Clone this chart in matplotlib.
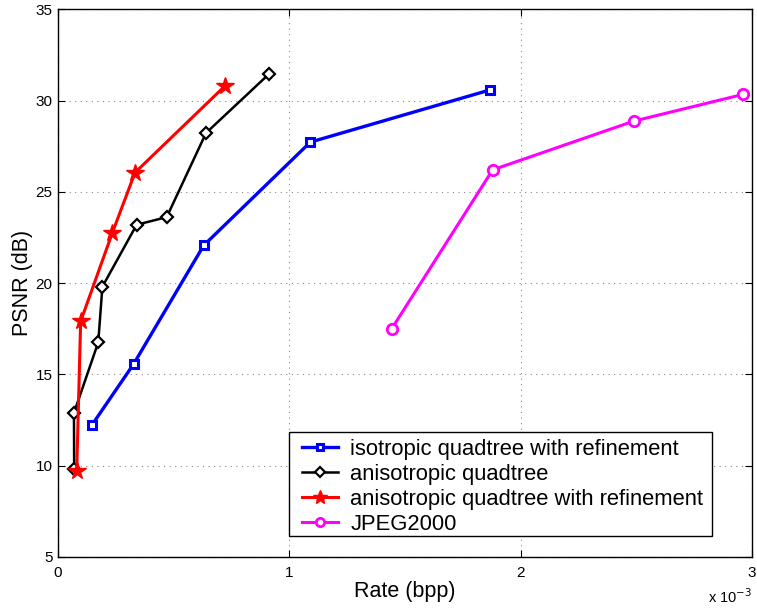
import matplotlib
matplotlib.use("Agg")
import matplotlib.pyplot as plt
from matplotlib.patches import Rectangle

plt.rcParams['font.family'] = ['Liberation Sans', 'DejaVu Sans']

# Rate in units of 1e-3 bpp, PSNR in dB
iso_ref_x = [0.148, 0.327, 0.630, 1.091, 1.868]
iso_ref_y = [12.25, 15.57, 22.07, 27.73, 30.59]

aniso_x = [0.070, 0.069, 0.174, 0.192, 0.340, 0.470, 0.640, 0.912]
aniso_y = [9.80, 12.89, 16.76, 19.81, 23.20, 23.62, 28.23, 31.46]

aniso_ref_x = [0.081, 0.098, 0.235, 0.333, 0.722]
aniso_ref_y = [9.73, 17.91, 22.76, 26.06, 30.81]

jpeg_x = [1.443, 1.879, 2.489, 2.963]
jpeg_y = [17.51, 26.21, 28.88, 30.35]

labels = ['isotropic quadtree with refinement', 'anisotropic quadtree',
          'anisotropic quadtree with refinement', 'JPEG2000']

xticks = [0, 1, 2, 3]
yticks = [5, 10, 15, 20, 25, 30, 35]

fig = plt.figure(figsize=(7.57, 6.12), dpi=100)
ax = fig.add_axes([0.0766, 0.090, 0.9168, 0.8946])

ax.plot(iso_ref_x, iso_ref_y, color='#0000ff', lw=2.4, marker='s', ms=6,
        mfc='white', mec='#0000ff', mew=2.2, label=labels[0])
ax.plot(aniso_x, aniso_y, color='black', lw=1.8, marker='D', ms=6.5,
        mfc='white', mec='black', mew=1.6, label=labels[1])
ax.plot(aniso_ref_x, aniso_ref_y, color='#ff0000', lw=2.2, marker='*', ms=13,
        mfc='#ff0000', mec='#ff0000', mew=1, label=labels[2])
ax.plot(jpeg_x, jpeg_y, color='#ff00ff', lw=2.2, marker='o', ms=7.5,
        mfc='white', mec='#ff00ff', mew=2, label=labels[3])

ax.set_xlim(0, 3)
ax.set_ylim(5, 35)
ax.set_xticks(xticks)
ax.set_yticks(yticks)
ax.set_xticklabels([str(t) for t in xticks])
ax.set_yticklabels([str(t) for t in yticks])
ax.tick_params(direction='in', top=True, right=True, length=5, width=0.8,
               labelsize=11)
ax.tick_params(axis='x', pad=6.5)
ax.tick_params(axis='y', pad=4)
ax.grid(True, linestyle=(0, (1, 4)), color='#888888', linewidth=0.8)
for s in ax.spines.values():
    s.set_linewidth(1.0)

ax.set_xlabel('Rate (bpp)', fontsize=15.5, labelpad=1)
ax.set_ylabel('PSNR (dB)', fontsize=15.5, labelpad=1.5)
ax.text(1.0, -0.084, r'x 10$^{-3}$', transform=ax.transAxes, ha='right',
        va='baseline', fontsize=10.5)

# legend box drawn manually
ax.add_patch(Rectangle((0.333, 0.038), 0.609, 0.190, transform=ax.transAxes,
                       facecolor='white', edgecolor='black', lw=1.0, zorder=4.5))
leg = ax.legend(loc='upper left', bbox_to_anchor=(0.3516, 0.216), fontsize=15.8,
                frameon=False, borderpad=0, labelspacing=0.18, handlelength=1.65,
                handletextpad=0.55, borderaxespad=0)
leg.set_zorder(5)
for h in leg.legend_handles:
    h.set_markersize(h.get_markersize() * 0.8)

fig.savefig('out.png', dpi=100)
